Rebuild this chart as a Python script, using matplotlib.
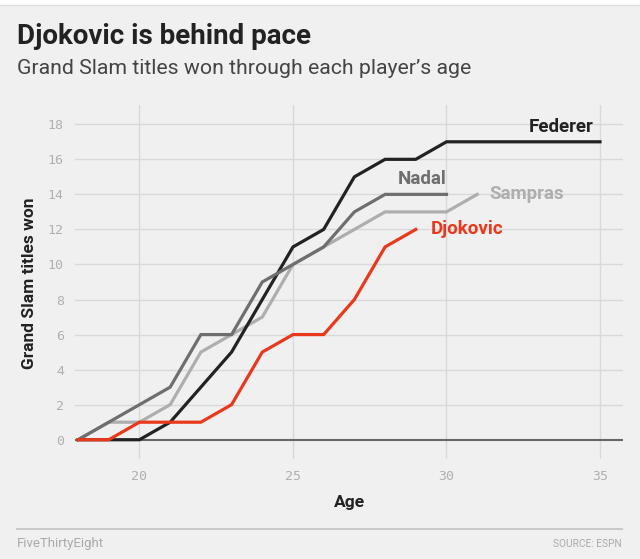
import matplotlib
matplotlib.use("Agg")
import matplotlib.pyplot as plt
from matplotlib.patches import Rectangle
from matplotlib.lines import Line2D

ages_federer = [18, 19, 20, 21, 22, 23, 24, 25, 26, 27, 28, 29, 30, 31, 32, 33, 34, 35]
federer = [0, 0, 0, 1, 3, 5, 8, 11, 12, 15, 16, 16, 17, 17, 17, 17, 17, 17]
ages_nadal = [18, 19, 20, 21, 22, 23, 24, 25, 26, 27, 28, 29, 30]
nadal = [0, 1, 2, 3, 6, 6, 9, 10, 11, 13, 14, 14, 14]
ages_sampras = [18, 19, 20, 21, 22, 23, 24, 25, 26, 27, 28, 29, 30, 31]
sampras = [0, 1, 1, 2, 5, 6, 7, 10, 11, 12, 13, 13, 13, 14]
ages_djokovic = [18, 19, 20, 21, 22, 23, 24, 25, 26, 27, 28, 29]
djokovic = [0, 0, 1, 1, 1, 2, 5, 6, 6, 8, 11, 12]

x_ticks = [20, 25, 30, 35]
y_ticks = [0, 2, 4, 6, 8, 10, 12, 14, 16, 18]

BG = "#f0f0f0"
fig = plt.figure(figsize=(6.4, 5.59), dpi=100, facecolor=BG)
W, H = 640, 559

# white strip at top
fig.patches.append(Rectangle((0, 1 - 5 / H), 1, 5 / H, transform=fig.transFigure,
                             facecolor="white", edgecolor="none", zorder=0))
fig.add_artist(Line2D([0, 1], [1 - 5 / H, 1 - 5 / H], transform=fig.transFigure,
                      color="#dddddd", lw=1))

ax_l, ax_r, ax_t, ax_b = 75, 623, 105, 459
ax = fig.add_axes([ax_l / W, 1 - ax_b / H, (ax_r - ax_l) / W, (ax_b - ax_t) / H])
ax.set_facecolor(BG)
ax.set_xlim(17.9, 35.75)
ax.set_ylim(-1.1, 19.1)

for t in x_ticks:
    ax.axvline(t, color="#d9d9d9", lw=1, zorder=1)
for t in y_ticks[1:]:
    ax.axhline(t, color="#d9d9d9", lw=1, zorder=1)
ax.axhline(0, color="#666666", lw=1.5, zorder=2)

lw = 2.3
ax.plot(ages_sampras, sampras, color="#aeaeae", lw=lw, zorder=3, solid_joinstyle="miter")
ax.plot(ages_federer, federer, color="#222222", lw=lw, zorder=4, solid_joinstyle="miter")
ax.plot(ages_nadal, nadal, color="#6e6e6e", lw=lw, zorder=4, solid_joinstyle="miter")
ax.plot(ages_djokovic, djokovic, color="#e8391d", lw=lw, zorder=5, solid_joinstyle="miter")

lab_font = "Roboto"
lab_size = 13.5
ax.text(34.8, 17.85, "Federer", color="#222222", fontsize=lab_size, fontweight="bold",
        ha="right", va="center", family=lab_font)
ax.text(30.0, 14.9, "Nadal", color="#6e6e6e", fontsize=lab_size, fontweight="bold",
        ha="right", va="center", family=lab_font)
ax.text(31.4, 14.0, "Sampras", color="#aeaeae", fontsize=lab_size, fontweight="bold",
        ha="left", va="center", family=lab_font)
ax.text(29.5, 12.05, "Djokovic", color="#e8391d", fontsize=lab_size, fontweight="bold",
        ha="left", va="center", family=lab_font)

ax.set_xticks(x_ticks)
ax.set_yticks(y_ticks)
ax.tick_params(length=0, colors="#b0b0b0", labelsize=9.5, pad=8)
for lbl in ax.get_xticklabels() + ax.get_yticklabels():
    lbl.set_family("DejaVu Sans Mono")
for s in ax.spines.values():
    s.set_visible(False)

fig.text(17 / W, 1 - 36 / H, "Djokovic is behind pace", fontsize=20, fontweight="bold",
         color="#222222", family="Roboto", va="center", ha="left")
fig.text(17 / W, 1 - 69 / H, "Grand Slam titles won through each player\u2019s age", fontsize=15.3,
         color="#444444", family="Roboto", va="center", ha="left")

fig.text(30 / W, 1 - 283 / H, "Grand Slam titles won", rotation=90, fontsize=12.5,
         fontweight="bold", color="#222222", family="Roboto", va="center", ha="center")
fig.text(349 / W, 1 - 503 / H, "Age", fontsize=12.5, fontweight="bold", color="#222222",
         family="Roboto", va="center", ha="center")

fig.add_artist(Line2D([17 / W, 622 / W], [1 - 529 / H, 1 - 529 / H], transform=fig.transFigure,
                      color="#c8c8c8", lw=1.5))
fig.text(17 / W, 1 - 544 / H, "FiveThirtyEight", fontsize=9.5, color="#aaaaaa",
         family="Roboto", va="center", ha="left")
fig.text(622 / W, 1 - 544 / H, "SOURCE: ESPN", fontsize=7.3, color="#aaaaaa",
         family="Roboto", va="center", ha="right")

fig.savefig("out.png", dpi=100, facecolor=BG)
